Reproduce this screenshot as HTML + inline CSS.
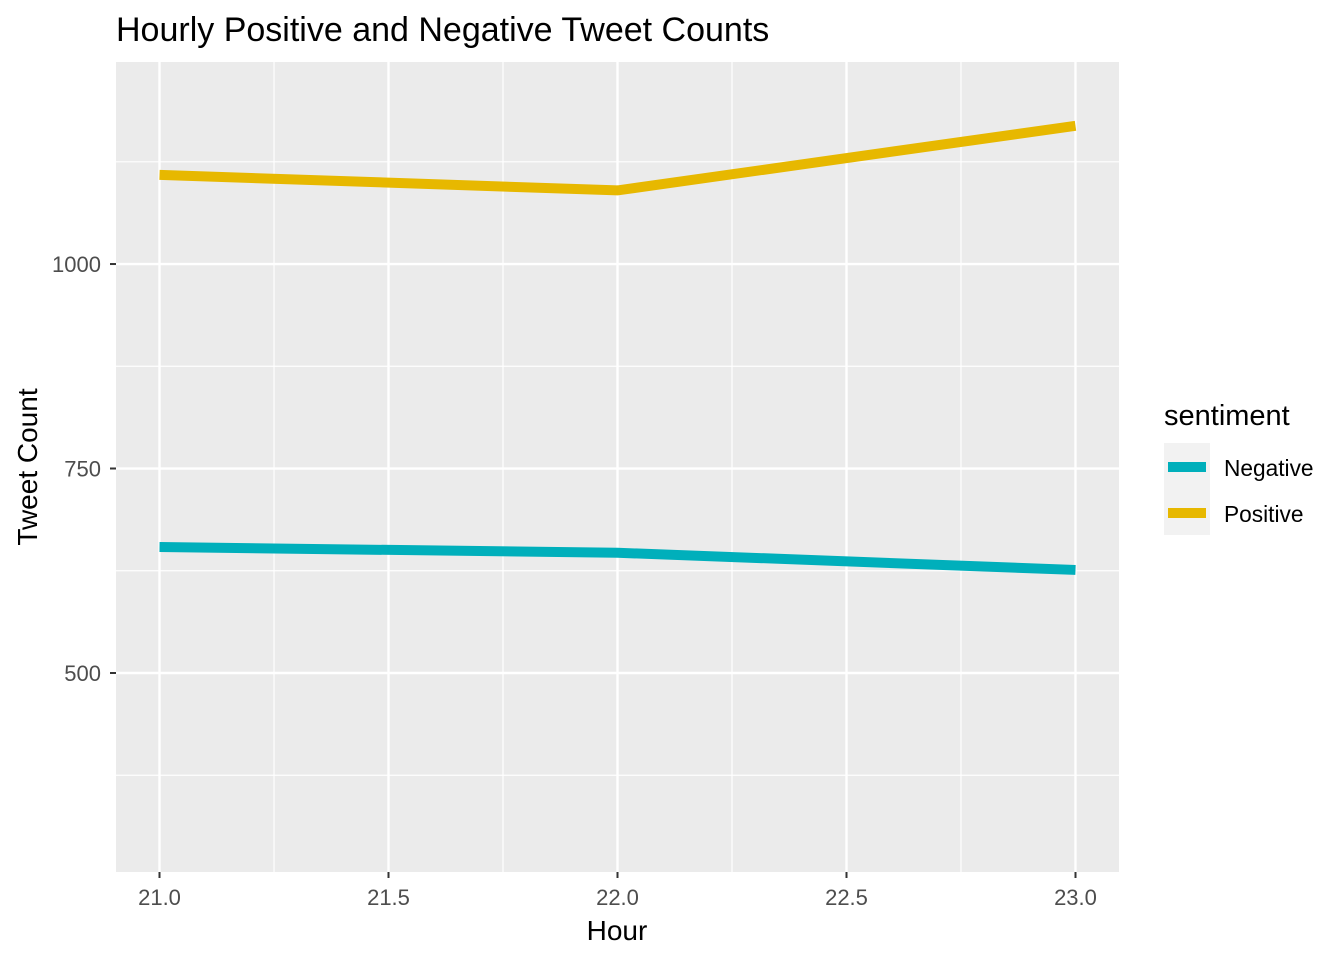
<!DOCTYPE html>
<html><head><meta charset="utf-8"><style>
body{margin:0;background:#fff;}
svg text{font-family:"Liberation Sans",Arial,sans-serif;}
</style></head><body>
<svg id="chart" width="1344" height="960" xmlns="http://www.w3.org/2000/svg">
<rect x="0" y="0" width="1344" height="960" fill="#fff"/>
<text x="116" y="41" font-size="34" fill="#000">Hourly Positive and Negative Tweet Counts</text>
<rect x="116" y="62" width="1003" height="810" fill="#ebebeb"/>
<g id="grid"></g>
<g id="lines"></g>
<g id="axes"></g>
<text x="617" y="940" font-size="28" text-anchor="middle" fill="#000">Hour</text>
<text transform="translate(37,467) rotate(-90)" font-size="28" text-anchor="middle" fill="#000">Tweet Count</text>
<g>
<text x="1164" y="425" font-size="29" fill="#000">sentiment</text>
<rect x="1164" y="443" width="46" height="92" fill="#f2f2f2"/>
<g>
<line x1="1168" x2="1206" y1="467" y2="467" stroke="#00AFBB" stroke-width="10"/>
<text x="1224" y="476" font-size="22.7" fill="#000">Negative</text></g>
<g>
<line x1="1168" x2="1206" y1="513" y2="513" stroke="#E7B800" stroke-width="10"/>
<text x="1224" y="522" font-size="22.7" fill="#000">Positive</text></g>
</g>
</svg>
<script>
const hours=[21,22,23];
const positive=[1109,1090,1169];
const negative=[654,647,626];
const xTicks=[21.0,21.5,22.0,22.5,23.0];
const xTickLabels=["21.0","21.5","22.0","22.5","23.0"];
const yTicks=[500,750,1000];
const yTickLabels=["500","750","1000"];
const yMinor=[375,625,875,1125];
const xMinor=[21.25,21.75,22.25,22.75];

const X0=116,X1=1119,Y0=872,Y1=62;
const xd=[20.905,23.095], yd=[256.7,1247];
const sx=v=>X0+(v-xd[0])/(xd[1]-xd[0])*(X1-X0);
const sy=v=>Y0-(v-yd[0])/(yd[1]-yd[0])*(Y0-Y1);
const NS="http://www.w3.org/2000/svg";
function mk(tag,attrs,parent){const e=document.createElementNS(NS,tag);for(const k in attrs)e.setAttribute(k,attrs[k]);parent.appendChild(e);return e;}
const grid=document.getElementById('grid'),lines=document.getElementById('lines'),axes=document.getElementById('axes');
yMinor.forEach(v=>{const l=mk('line',{x1:X0,x2:X1,y1:sy(v),y2:sy(v),stroke:'#fff','stroke-width':1.2},grid);

});
xMinor.forEach(v=>{const l=mk('line',{x1:sx(v),x2:sx(v),y1:Y1,y2:Y0,stroke:'#fff','stroke-width':1.2},grid);

});
yTicks.forEach((v,i)=>{const l=mk('line',{x1:X0,x2:X1,y1:sy(v),y2:sy(v),stroke:'#fff','stroke-width':2.4},grid);


const t=mk('line',{x1:X0-6,x2:X0,y1:sy(v),y2:sy(v),stroke:'#333','stroke-width':2},axes);


const tx=mk('text',{x:X0-15,y:sy(v)+8,'font-size':22,'text-anchor':'end',fill:'#4d4d4d'},axes);tx.textContent=yTickLabels[i];

});
xTicks.forEach((v,i)=>{const l=mk('line',{x1:sx(v),x2:sx(v),y1:Y1,y2:Y0,stroke:'#fff','stroke-width':2.4},grid);


const t=mk('line',{x1:sx(v),x2:sx(v),y1:Y0,y2:Y0+6,stroke:'#333','stroke-width':2},axes);


const tx=mk('text',{x:sx(v),y:Y0+33,'font-size':22,'text-anchor':'middle',fill:'#4d4d4d'},axes);tx.textContent=xTickLabels[i];

});
function series(vals,color,name){const p=mk('polyline',{points:hours.map((h,i)=>sx(h)+','+sy(vals[i])).join(' '),fill:'none',stroke:color,'stroke-width':10},lines);

}
series(negative,'#00AFBB','negative-line');
series(positive,'#E7B800','positive-line');
</script>
</body></html>
